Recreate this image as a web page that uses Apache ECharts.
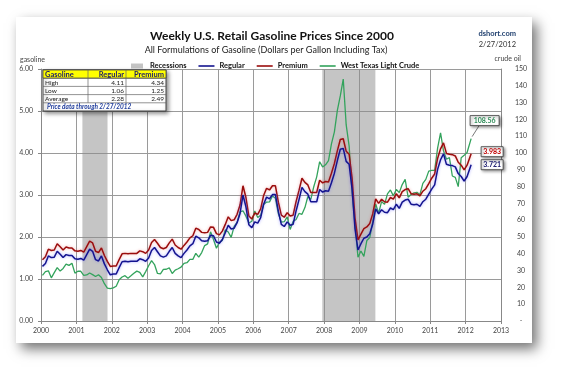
<!DOCTYPE html>
<html><head><meta charset="utf-8">
<script src="https://cdn.jsdelivr.net/npm/echarts@6/dist/echarts.min.js"></script>
<style>html,body{margin:0;padding:0;background:#fff}#c{width:569px;height:376px}</style>
</head><body><div id="c"></div><script>
// ---- data (monthly, Jan 2000 .. Jan 2012, last point = 2/27/2012) ----
const regular = [
1.30,1.37,1.55,1.51,1.52,1.66,1.59,1.51,1.58,1.56,1.56,1.48,
1.47,1.49,1.45,1.58,1.71,1.66,1.46,1.43,1.55,1.36,1.22,1.10,
1.12,1.12,1.27,1.41,1.42,1.41,1.42,1.42,1.42,1.48,1.46,1.42,
1.50,1.68,1.75,1.65,1.55,1.52,1.55,1.66,1.75,1.61,1.55,1.51,
1.61,1.69,1.79,1.84,2.02,1.98,1.91,1.90,1.91,2.04,2.03,1.88,
1.85,1.94,2.10,2.28,2.19,2.21,2.34,2.56,3.00,2.72,2.29,2.22,
2.36,2.33,2.46,2.78,2.95,2.91,3.01,3.01,2.61,2.30,2.25,2.36,
2.28,2.30,2.62,2.89,3.18,3.08,3.02,2.84,2.84,2.84,3.13,3.07,
3.10,3.09,3.29,3.52,3.82,4.09,4.11,3.80,3.73,3.14,2.19,1.69,
1.84,1.97,2.00,2.08,2.31,2.67,2.55,2.65,2.59,2.58,2.69,2.65,
2.78,2.68,2.83,2.88,2.90,2.78,2.77,2.78,2.73,2.84,2.90,3.02,
3.14,3.24,3.61,3.84,3.98,3.73,3.71,3.70,3.67,3.51,3.44,3.33,
3.44,3.721];
const premium = [
1.46,1.53,1.71,1.68,1.69,1.84,1.77,1.69,1.76,1.74,1.74,1.67,
1.66,1.68,1.64,1.77,1.90,1.86,1.66,1.63,1.74,1.56,1.42,1.30,
1.31,1.31,1.46,1.60,1.61,1.60,1.61,1.61,1.61,1.67,1.65,1.61,
1.69,1.87,1.94,1.85,1.75,1.72,1.75,1.86,1.95,1.81,1.75,1.71,
1.80,1.88,1.98,2.03,2.21,2.18,2.11,2.10,2.11,2.24,2.23,2.08,
2.05,2.14,2.30,2.48,2.39,2.41,2.54,2.76,3.22,2.94,2.50,2.43,
2.57,2.54,2.67,2.99,3.16,3.12,3.22,3.22,2.83,2.52,2.47,2.58,
2.50,2.52,2.84,3.11,3.40,3.30,3.24,3.06,3.06,3.06,3.35,3.29,
3.32,3.31,3.52,3.75,4.05,4.32,4.34,4.04,3.97,3.40,2.45,1.93,
2.07,2.20,2.24,2.32,2.55,2.91,2.80,2.90,2.84,2.83,2.94,2.90,
3.03,2.93,3.08,3.13,3.15,3.03,3.02,3.03,2.98,3.09,3.15,3.27,
3.40,3.50,3.87,4.10,4.24,3.99,3.97,3.96,3.93,3.78,3.71,3.60,
3.71,3.983];
const crude = [
27.2,29.4,29.9,25.7,28.8,31.8,29.7,31.3,33.9,33.1,34.4,28.5,
29.6,29.6,27.2,27.4,28.6,27.6,26.5,27.5,25.9,22.2,19.6,19.3,
19.7,20.7,24.5,26.2,27.0,25.5,26.9,28.4,29.7,28.9,26.3,29.4,
32.9,35.9,33.6,28.3,28.1,30.7,30.8,31.6,28.3,30.3,31.1,32.1,
34.3,34.7,36.7,36.7,40.3,38.0,40.7,44.9,45.9,53.1,48.5,43.3,
46.8,48.0,54.3,53.0,49.8,56.3,58.7,65.0,65.6,62.4,58.3,59.4,
65.5,61.6,62.9,69.4,70.8,70.9,74.4,73.0,63.8,58.9,59.1,62.0,
54.5,59.3,60.4,64.0,63.5,67.5,74.1,72.4,79.9,85.8,94.8,91.7,
93.0,95.4,105.4,112.6,125.4,134.0,144.0,116.7,104.1,76.6,57.3,38.0,
41.7,38.5,47.9,49.7,59.0,69.6,64.2,71.1,69.4,75.7,78.0,74.5,
78.3,76.4,81.2,84.3,73.7,75.3,76.3,76.6,75.2,81.9,84.3,89.2,
89.6,89.7,102.9,112.0,101.3,96.3,97.3,86.3,85.5,80.0,97.2,98.6,
100.3,108.56];
const startYear = 2000;
const lastDate = 2012 + 57/366;          // 2/27/2012
const recessions = [[2001.17, 2001.88], [2007.95, 2009.45]];
const tableHeader = ['Gasoline', 'Regular', 'Premium'];
const tableRows = [['High', '4.11', '4.34'], ['Low', '1.06', '1.25'], ['Average', '2.28', '2.49']];
const tableNote = 'Price data through 2/27/2012';

const GAS_MAX = 6, CRUDE_MAX = 150;
function toPairs(vals) {
  return vals.map((v, i) => [i === vals.length - 1 ? lastDate : startYear + (i + 0.5) / 12, v]);
}
const F = 'Lato, "Liberation Sans", sans-serif';
const C_REG = '#14148f', C_PREM = '#9a0d0d', C_CRUDE = '#33a35c';

const chart = echarts.init(document.getElementById('c'), null, {renderer: 'canvas'});

function txt(text, x, y, font, fill, align, z) {
  return {type: 'text', z: z || 0, style: {text: text, x: x, y: y, align: align || 'left', verticalAlign: 'middle', font: font, fill: fill}};
}

// table graphic
const TZ = 100;
const tx = 43, ty = 70, cw = [45, 38, 40], rh = 8.2;
const tW = cw[0] + cw[1] + cw[2];
const tableEls = [];
tableEls.push({type: 'rect', z: TZ, shape: {x: tx, y: ty, width: tW, height: rh * 5},
  style: {fill: '#fff', stroke: '#444', lineWidth: 1, shadowBlur: 4, shadowColor: 'rgba(0,0,0,0.45)', shadowOffsetX: 2, shadowOffsetY: 2}});
tableEls.push({type: 'rect', z: TZ, shape: {x: tx, y: ty, width: tW, height: rh}, style: {fill: '#ffff00', stroke: '#444', lineWidth: 0.8}});
for (let r = 1; r <= 4; r++) {
  tableEls.push({type: 'line', z: TZ, shape: {x1: tx, y1: ty + rh * r, x2: tx + tW, y2: ty + rh * r}, style: {stroke: '#666', lineWidth: 0.7}});
}
[cw[0], cw[0] + cw[1]].forEach(cx => tableEls.push({type: 'line', z: TZ, shape: {x1: tx + cx, y1: ty, x2: tx + cx, y2: ty + rh * 4}, style: {stroke: '#666', lineWidth: 0.7}}));
function colX(j) { return j === 0 ? tx + 2 : tx + cw[0] + (j === 1 ? cw[1] : cw[1] + cw[2]) - 2; }
tableHeader.forEach((h, j) => tableEls.push(txt(h, colX(j), ty + rh / 2 + 0.5, 'bold 7.5px ' + F, '#1a1a6e', j === 0 ? 'left' : 'right', TZ + 1)));
tableRows.forEach((row, i) => row.forEach((v, j) =>
  tableEls.push(txt(v, colX(j), ty + rh * (i + 1.5) + 0.5, '6.5px ' + F, '#222', j === 0 ? 'left' : 'right', TZ + 1))));
tableEls.push(txt(tableNote, tx + 4, ty + rh * 4.5 + 0.5, 'italic bold 6.5px ' + F, '#1f3c9c', 'left', TZ + 1));

const baseGraphic = [
  {type: 'rect', id: 'card', z: -10, shape: {x: 16, y: 17, width: 516, height: 326},
    style: {fill: '#fff', shadowBlur: 12, shadowColor: 'rgba(0,0,0,0.55)', shadowOffsetX: 5, shadowOffsetY: 6}},
  {type: 'group', id: 'texts', children: [
    txt('Weekly U.S. Retail Gasoline Prices Since 2000', 272, 36, 'bold 12px ' + F, '#111', 'center'),
    txt('All Formulations of Gasoline (Dollars per Gallon Including Tax)', 266, 50, '9px ' + F, '#222', 'center'),
    txt('dshort.com', 516, 34, 'bold 7.5px ' + F, '#1f3f6e', 'right'),
    txt('2/27/2012', 516, 45, '7.5px ' + F, '#333', 'right'),
    txt('gasoline', 20, 60, '7px ' + F, '#444', 'left'),
    txt('crude oil', 521, 59, '7px ' + F, '#444', 'right')
  ]},
  {type: 'group', id: 'table', children: tableEls}
];

chart.setOption({
  animation: false,
  backgroundColor: '#fff',
  graphic: baseGraphic,
  legend: {
    top: 57, left: 126, itemWidth: 16, itemHeight: 5, itemGap: 12,
    textStyle: {fontFamily: F, fontSize: 7.5, fontWeight: 'bold', color: '#111'},
    data: [
      {name: 'Recessions', icon: 'path://M0,0h12v5h-12z', itemStyle: {color: '#c4c4c4'}},
      {name: 'Regular', icon: 'path://M0,0h16v1.6h-16z', itemStyle: {color: C_REG}},
      {name: 'Premium', icon: 'path://M0,0h16v1.6h-16z', itemStyle: {color: C_PREM}},
      {name: 'West Texas Light Crude', icon: 'path://M0,0h16v1.6h-16z', itemStyle: {color: C_CRUDE}}
    ]
  },
  grid: {left: 41, right: 68, top: 69, bottom: 55},
  xAxis: {
    type: 'value', min: 2000, max: 2013, interval: 1,
    axisLine: {lineStyle: {color: '#888'}},
    axisTick: {show: true, length: 3, lineStyle: {color: '#888'}},
    splitLine: {show: true, lineStyle: {color: '#9a9a9a', width: 1}},
    axisLabel: {formatter: function (v) { return String(v); }, fontFamily: F, fontSize: 7, color: '#444', margin: 6}
  },
  yAxis: [
    {type: 'value', min: 0, max: GAS_MAX, interval: 1,
      axisLine: {show: true, lineStyle: {color: '#888'}},
      axisTick: {show: true, length: 3, lineStyle: {color: '#888'}},
      splitLine: {show: true, lineStyle: {color: '#9a9a9a', width: 1}},
      axisLabel: {formatter: function (v) { return v.toFixed(2); }, fontFamily: F, fontSize: 7, color: '#444', margin: 8}},
    {type: 'value', min: 0, max: CRUDE_MAX, interval: 10, position: 'right',
      axisLine: {show: true, lineStyle: {color: '#888'}},
      axisTick: {show: false},
      splitLine: {show: false},
      axisLabel: {formatter: function (v) { return v === 0 ? '-' : String(v); }, fontFamily: F, fontSize: 7, color: '#444', margin: 20, align: 'center'}}
  ],
  series: [
    {name: 'Recessions', type: 'line', data: [], showSymbol: false, itemStyle: {color: '#c4c4c4'},
      markArea: {silent: true, itemStyle: {color: 'rgba(140,140,140,0.5)'},
        data: recessions.map(function (r) { return [{xAxis: r[0]}, {xAxis: r[1]}]; })}},
    {name: 'West Texas Light Crude', type: 'line', yAxisIndex: 1, z: 3, showSymbol: false, symbol: 'none',
      data: toPairs(crude), lineStyle: {color: C_CRUDE, width: 1.3}, itemStyle: {color: C_CRUDE}},
    {name: 'Premium', type: 'line', z: 4, showSymbol: false, symbol: 'none',
      data: toPairs(premium), lineStyle: {color: C_PREM, width: 1.5, shadowColor: 'rgba(230,80,80,0.45)', shadowBlur: 3}, itemStyle: {color: C_PREM}},
    {name: 'Regular', type: 'line', z: 5, showSymbol: false, symbol: 'none',
      data: toPairs(regular), lineStyle: {color: C_REG, width: 1.5, shadowColor: 'rgba(90,90,255,0.55)', shadowBlur: 3}, itemStyle: {color: C_REG}}
  ]
});

// end-value call-outs, positioned through the chart's own scales
const n = regular.length - 1;
const pReg = chart.convertToPixel({xAxisIndex: 0, yAxisIndex: 0}, [lastDate, regular[n]]);
const pPrem = chart.convertToPixel({xAxisIndex: 0, yAxisIndex: 0}, [lastDate, premium[n]]);
const pCrude = chart.convertToPixel({xAxisIndex: 0, yAxisIndex: 1}, [lastDate, crude[n]]);
const CZ = 90;
function box(x, cy, w, text, color) {
  return [
    {type: 'rect', z: CZ, shape: {x: x, y: cy - 5, width: w, height: 10},
      style: {fill: '#fff', stroke: '#333', lineWidth: 0.8, shadowBlur: 3, shadowColor: 'rgba(0,0,0,0.5)', shadowOffsetX: 1.5, shadowOffsetY: 1.5}},
    txt(text, x + w / 2, cy + 0.5, 'bold 7px ' + F, color, 'center', CZ + 1)
  ];
}
chart.setOption({graphic: baseGraphic.concat([
  {type: 'group', id: 'callouts', children: [].concat(
    [{type: 'line', z: CZ, shape: {x1: pCrude[0] + 1, y1: pCrude[1] - 2, x2: pCrude[0] + 8, y2: pCrude[1] - 13}, style: {stroke: '#555', lineWidth: 0.8}}],
    box(pCrude[0] - 1, pCrude[1] - 18, 29, crude[n].toFixed(2), '#2e8b57'),
    box(pPrem[0] + 10, pPrem[1] - 2, 22, premium[n].toFixed(3), '#c00000'),
    box(pReg[0] + 10, pReg[1], 22, regular[n].toFixed(3), '#1a1a6e')
  )}
])});
</script></body></html>
